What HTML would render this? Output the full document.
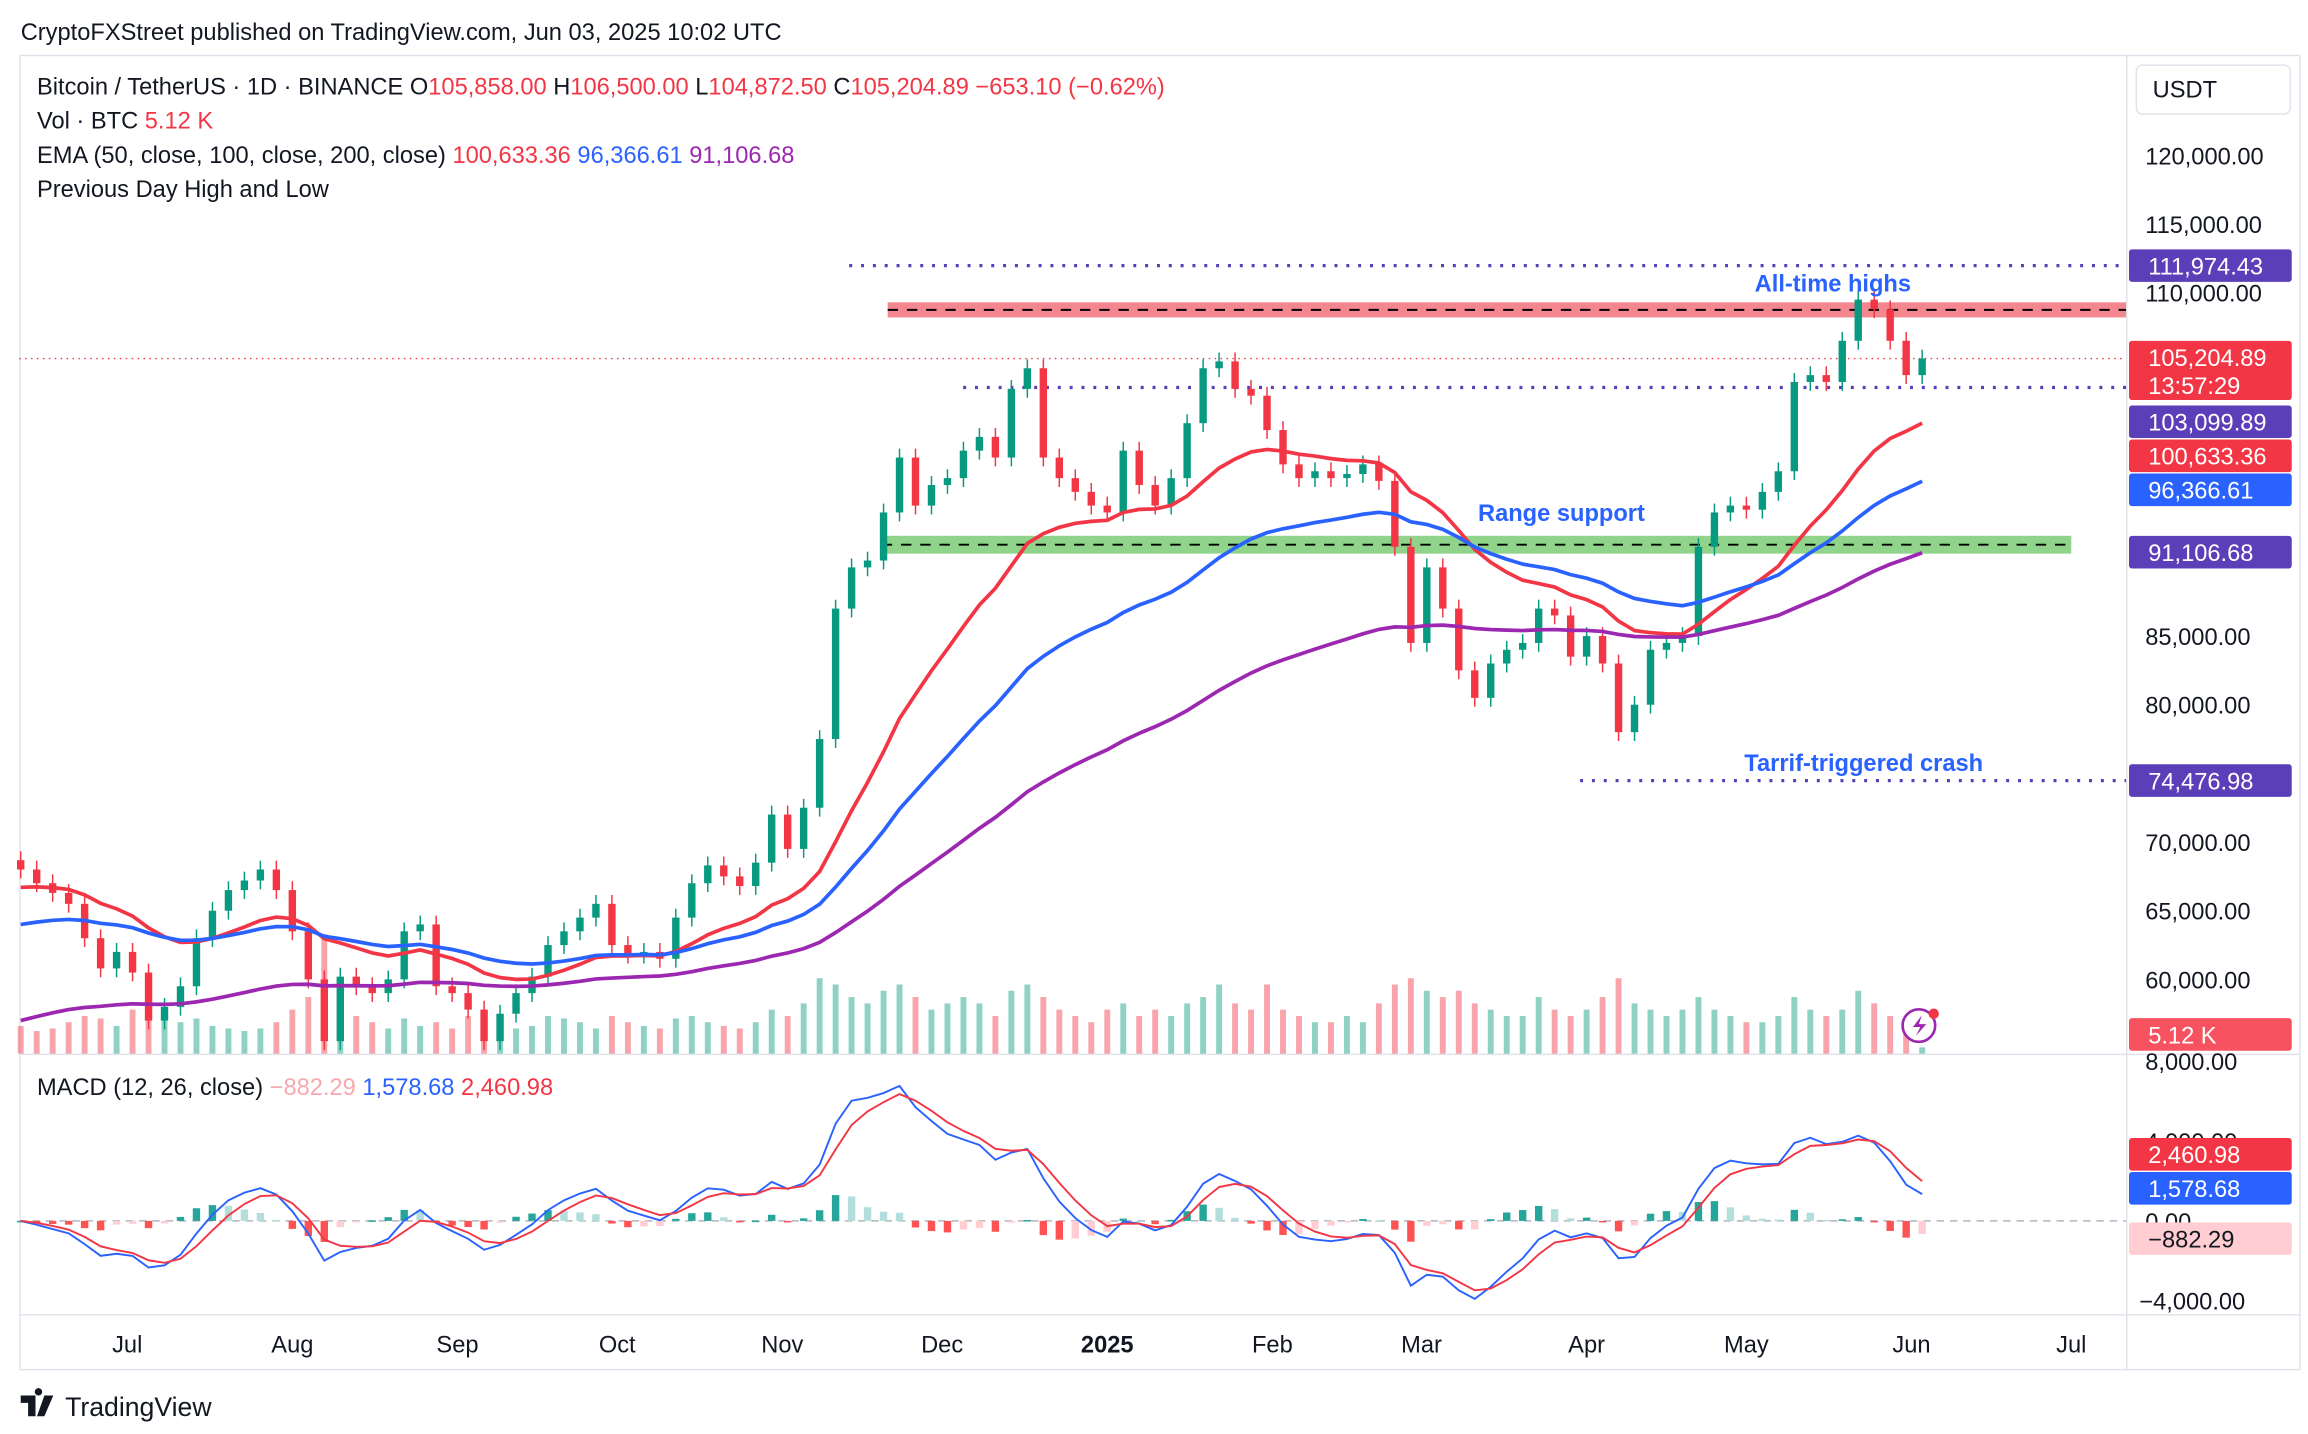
<!DOCTYPE html>
<html><head><meta charset="utf-8"><style>
html,body{margin:0;padding:0;background:#fff;}
svg{display:block;font-family:"Liberation Sans",sans-serif;}
</style></head><body>
<svg id="chart" width="2308" height="1434" viewBox="0 0 1560 969" preserveAspectRatio="none" xmlns="http://www.w3.org/2000/svg">
<rect x="0" y="0" width="1560" height="969" fill="#fff"/>
<text x="14" y="27" font-size="16" fill="#131722">CryptoFXStreet published on TradingView.com, Jun 03, 2025 10:02 UTC</text>
<rect x="13.5" y="37.5" width="1541" height="888" fill="none" stroke="#e0e3eb"/>
<line x1="1437.5" y1="37" x2="1437.5" y2="925" stroke="#e0e3eb"/>
<line x1="13" y1="712.5" x2="1555" y2="712.5" stroke="#e0e3eb"/>
<line x1="13" y1="888.5" x2="1555" y2="888.5" stroke="#e0e3eb"/>
<g id="bands"></g>
<g id="vol"></g>
<g id="candles"></g>
<g id="emas"></g>
<g id="macd"></g>
<g id="axes"></g>
<g id="labels"></g>
<g font-size="16">
<text x="25" y="64" fill="#131722">Bitcoin / TetherUS · 1D · BINANCE  O<tspan fill="#f23645">105,858.00</tspan>  H<tspan fill="#f23645">106,500.00</tspan>  L<tspan fill="#f23645">104,872.50</tspan>  C<tspan fill="#f23645">105,204.89 −653.10 (−0.62%)</tspan></text>
<text x="25" y="87" fill="#131722">Vol · BTC <tspan fill="#f23645">5.12 K</tspan></text>
<text x="25" y="110" fill="#131722">EMA (50, close, 100, close, 200, close) <tspan fill="#f23645">100,633.36</tspan> <tspan fill="#2962ff">96,366.61</tspan> <tspan fill="#9c27b0">91,106.68</tspan></text>
<text x="25" y="133" fill="#131722">Previous Day High and Low</text>
<text x="25" y="740" fill="#131722">MACD (12, 26, close) <tspan fill="#f7a9b0">−882.29</tspan> <tspan fill="#2962ff">1,578.68</tspan> <tspan fill="#f23645">2,460.98</tspan></text>
</g>
<g id="notes" font-size="16" font-weight="bold" fill="#2962ff">
<text x="1186" y="197">All-time highs</text>
<text x="999" y="352">Range support</text>
<text x="1179" y="521">Tarrif-triggered crash</text>
</g>
<g>
<rect x="1444" y="44" width="104" height="33" rx="4" fill="#fff" stroke="#e0e3eb"/>
<text x="1455" y="66" font-size="16" fill="#131722">USDT</text>
</g>
<g>
<circle cx="1297" cy="693" r="11" fill="#fff" stroke="#9c27b0" stroke-width="1.8"/>
<path d="M1299 686 L1293 694 L1298 694 L1295 700 L1302 692 L1297 692 Z" fill="#9c27b0"/>
<circle cx="1307" cy="685" r="3.5" fill="#f23645"/>
</g>
<g>
<path d="M14 943 h10 v14 h-5 v-9 h-5z M26 943 a2.5 2.5 0 1 1 0.01 0z M30 943 h6 l-6 14 h-5z" fill="#131722"/>
<text x="44" y="957" font-size="18" fill="#131722">TradingView</text>
</g>
</svg>
<script>
var closes=[68000,67000,66300,65500,63000,60800,62000,60500,57000,58000,59500,63000,65000,66500,67200,68000,66500,63500,60000,55500,60200,59500,59000,60000,63500,64000,59500,59000,57800,55500,57500,59000,60200,62500,63500,64500,65500,62500,61800,62000,61500,64500,67000,68300,67500,66800,68500,72000,69500,72500,77500,87000,90000,90500,94000,98000,94500,96000,96500,98500,99500,98000,103000,104500,98000,96500,95500,94500,94000,98500,96000,94500,96500,100500,104500,105000,103000,102500,100000,97500,96500,97000,96500,96800,97500,96300,91500,84500,90000,87000,82500,80500,83000,84000,84500,87000,86500,83500,85000,83000,78000,80000,84000,84500,85000,91500,94000,94500,94200,95500,97000,103500,104000,103500,106500,109500,108800,106500,104000,105204.89];
var volumes=[22,18,20,25,30,28,22,35,40,30,25,28,22,20,18,20,25,35,45,95,40,30,25,20,28,22,25,20,30,35,25,20,22,30,28,25,20,30,25,22,20,28,30,25,22,20,25,35,30,40,60,55,45,40,50,55,45,35,40,45,40,30,50,55,45,35,30,25,35,40,30,35,30,40,45,55,40,35,55,35,30,25,25,30,25,40,55,60,50,45,50,40,35,30,30,45,35,30,35,45,60,40,35,30,35,45,35,30,25,25,30,45,35,30,35,50,40,30,25,5];
var priceTicks=[120000,115000,110000,85000,80000,70000,65000,60000];
var macdTicks=[8000,4000,0,-4000];
var monthLabels=["Jul","Aug","Sep","Oct","Nov","Dec","2025","Feb","Mar","Apr","May","Jun","Jul"];
var monthDays=[20,51,82,112,143,173,204,235,263,294,324,355,385];
var emaPeriods=[50,100,200];
var emaSeeds=[66700,64000,57000];

var NS="http://www.w3.org/2000/svg";
function xDay(d){return 14+3.6*d;}
function xIdx(i){return xDay(i*3);}
function yP(p){return 105+(120000-p)/5000*46.4;}
function yM(v){return 825-v*54/4000;}
function yV(v){return 712-v*0.85;}
function mk(tag,attrs,parent){var e=document.createElementNS(NS,tag);for(var k in attrs)e.setAttribute(k,attrs[k]);document.getElementById(parent).appendChild(e);return e;}
function fmt(n){return n.toLocaleString('en-US',{minimumFractionDigits:2,maximumFractionDigits:2}).replace('-','−');}

var b;
b=mk('rect',{x:600,y:yP(109300),width:837,height:yP(108200)-yP(109300),fill:'#f4868f'},'bands');


mk('line',{x1:600,x2:1437,y1:yP(108750),y2:yP(108750),stroke:'#000','stroke-dasharray':'7 6','stroke-width':1.3},'bands');
b=mk('rect',{x:596,y:yP(92300),width:804,height:yP(91000)-yP(92300),fill:'#8fd48a'},'bands');


mk('line',{x1:596,x2:1400,y1:yP(91650),y2:yP(91650),stroke:'#000','stroke-dasharray':'7 6','stroke-width':1.3},'bands');
b=mk('line',{x1:574,x2:1437,y1:yP(111974.43),y2:yP(111974.43),stroke:'#5b3fb8','stroke-dasharray':'2 6','stroke-width':2.2},'bands');


b=mk('line',{x1:651,x2:1437,y1:yP(103099.89),y2:yP(103099.89),stroke:'#5b3fb8','stroke-dasharray':'2 6','stroke-width':2.2},'bands');


b=mk('line',{x1:1068,x2:1437,y1:yP(74476.98),y2:yP(74476.98),stroke:'#5b3fb8','stroke-dasharray':'2 6','stroke-width':2.2},'bands');


b=mk('line',{x1:13,x2:1437,y1:yP(closes[closes.length-1]),y2:yP(closes[closes.length-1]),stroke:'#f23645','stroke-dasharray':'1 3','stroke-width':1},'bands');



for(var i=0;i<closes.length;i++){
  var o=i>0?closes[i-1]:closes[0]*1.01, c=closes[i], up=c>=o, x=xIdx(i);
  var v=mk('rect',{x:x-2,y:yV(volumes[i]),width:4,height:712-yV(volumes[i]),fill:up?'rgba(8,153,129,0.45)':'rgba(242,54,69,0.45)'},'vol');
  
  
  var col=up?'#089981':'#f23645';
  var yTop=yP(Math.max(o,c)),yBot=yP(Math.min(o,c));
  var w=mk('line',{x1:x,x2:x,y1:yTop-6,y2:yBot+6,stroke:col,'stroke-width':1},'candles');
  
  
  var r=mk('rect',{x:x-2.5,y:yTop,width:5,height:Math.max(1,yBot-yTop),fill:col},'candles');
  
  
}

function ema(arr,n,seed){var a=2/(n/3+1),out=[],e=seed;for(var i=0;i<arr.length;i++){e=i==0?seed:e+a*(arr[i]-e);out.push(e);}return out;}
var emaCols=['#f23645','#2962ff','#9c27b0'],emaNames=['ema-50','ema-100','ema-200'];
for(var k=0;k<3;k++){
  var s=ema(closes,emaPeriods[k],emaSeeds[k]),d='';
  for(var i=0;i<s.length;i++)d+=(i?'L':'M')+xIdx(i).toFixed(1)+' '+yP(s[i]).toFixed(1);
  var p=mk('path',{d:d,fill:'none',stroke:emaCols[k],'stroke-width':2.5},'emas');
  
  
}

var e12=ema(closes,12,closes[0]),e26=ema(closes,26,closes[0]),macd=[];
for(var i=0;i<closes.length;i++)macd.push(e12[i]-e26[i]);
var sig=ema(macd,9,0);
var z=mk('line',{x1:13,x2:1437,y1:yM(0),y2:yM(0),stroke:'#b2b5be','stroke-dasharray':'5 4'},'macd');


for(var i=0;i<macd.length;i++){
  var h=macd[i]-sig[i],hp=i>0?macd[i-1]-sig[i-1]:h,x=xIdx(i);
  var col=h>=0?(h>=hp?'#26a69a':'#b2dfdb'):(h<=hp?'#ff5252':'#ffcdd2');
  var hb=mk('rect',{x:x-2.5,y:Math.min(yM(h),yM(0)),width:5,height:Math.max(1,Math.abs(yM(h)-yM(0))),fill:col},'macd');
  
  
}
var dm='',ds='';
for(var i=0;i<macd.length;i++){dm+=(i?'L':'M')+xIdx(i).toFixed(1)+' '+yM(macd[i]).toFixed(1);ds+=(i?'L':'M')+xIdx(i).toFixed(1)+' '+yM(sig[i]).toFixed(1);}
var ml=mk('path',{d:dm,fill:'none',stroke:'#2962ff','stroke-width':1.3},'macd');


var sl=mk('path',{d:ds,fill:'none',stroke:'#f23645','stroke-width':1.3},'macd');



for(var i=0;i<priceTicks.length;i++){
  var t=mk('text',{x:1450,y:yP(priceTicks[i])+6,'font-size':16,fill:'#131722'},'axes');
  t.textContent=fmt(priceTicks[i]);
  
  
}
for(var i=0;i<macdTicks.length;i++){
  var t=mk('text',{x:macdTicks[i]<0?1446:1450,y:yM(macdTicks[i])+6,'font-size':16,fill:'#131722'},'axes');
  t.textContent=fmt(macdTicks[i]);
  
  
}
for(var i=0;i<monthLabels.length;i++){
  var t=mk('text',{x:xDay(monthDays[i]),y:914,'font-size':16,fill:'#131722','text-anchor':'middle','font-weight':monthLabels[i]=='2025'?'bold':'normal'},'axes');
  t.textContent=monthLabels[i];
  
  
}

function lab(y,txt,bg,fg,name,h){
  h=h||22;
  var r=mk('rect',{x:1439,y:y-11,width:110,height:h,rx:2,fill:bg},'labels');
  
  
  var t=mk('text',{x:1452,y:y+6,'font-size':16,fill:fg},'labels');
  t.textContent=txt;
}
lab(yP(111974.43),'111,974.43','#5b3fb8','#fff','ath-label');
lab(yP(105204.89)-1,'105,204.89','#f23645','#fff','last-price-label',40);
var tt=mk('text',{x:1452,y:yP(105204.89)+24,'font-size':16,fill:'#fff'},'labels');
tt.textContent='13:57:29';
lab(285,'103,099.89','#5b3fb8','#fff','prev-low-label');
lab(308,'100,633.36','#f23645','#fff','ema50-label');
lab(331,'96,366.61','#2962ff','#fff','ema100-label');
lab(yP(91106.68),'91,106.68','#5b3fb8','#fff','ema200-label');
lab(yP(74476.98),'74,476.98','#5b3fb8','#fff','crash-low-label');
lab(699,'5.12 K','#f7525f','#fff','volume-label');
lab(780,'2,460.98','#f23645','#fff','signal-label');
lab(803,'1,578.68','#2962ff','#fff','macd-label');
lab(837,'−882.29','#ffcdd2','#131722','histogram-label');
</script>
</body></html>
